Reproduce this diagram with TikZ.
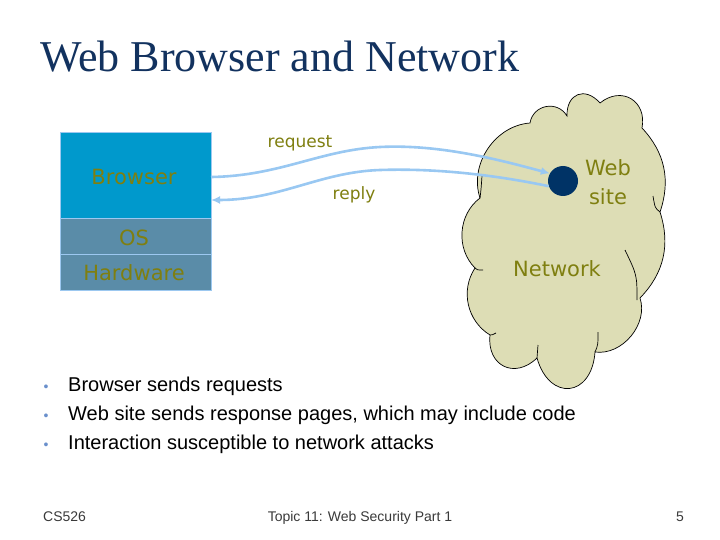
\documentclass[tikz,border=0pt]{standalone}
\usepackage{fontspec}
\setmainfont{Liberation Sans}
\newfontfamily\titlefont{Liberation Serif}
\newfontfamily\boxfont{DejaVu Sans}
\usetikzlibrary{arrows.meta}
\definecolor{titleblue}{HTML}{12325F}
\definecolor{browserblue}{HTML}{0099CC}
\definecolor{osblue}{HTML}{5A8CA8}
\definecolor{edgeblue}{HTML}{9CC8F0}
\definecolor{olivetext}{HTML}{7F7F10}
\definecolor{cloudfill}{HTML}{DDDDB5}
\definecolor{dotblue}{HTML}{003366}
\definecolor{arrowblue}{HTML}{99C8F2}
\definecolor{bulletblue}{HTML}{6A90CC}
\definecolor{footgray}{HTML}{3A3A3A}
\tikzset{
  layerbox/.style={draw=edgeblue, line width=0.8pt, minimum width=151pt, inner sep=0pt, outer sep=0pt},
  olive/.style={text=olivetext, font=\boxfont\fontsize{#1}{#1}\selectfont, inner sep=0pt},
  bump/.style 2 args={bend left=#1, looseness=#2},
  flow/.style={draw=arrowblue, line width=2.6pt, -{Latex[length=9pt,width=8pt]}},
  bullettext/.style={anchor=base west, inner sep=0pt, font=\fontsize{20}{20}\selectfont},
  bulletdot/.style={anchor=base, inner sep=0pt, text=bulletblue, font=\fontsize{14}{14}\selectfont},
  foot/.style={inner sep=0pt, text=footgray, font=\fontsize{14}{14}\selectfont}
}
\begin{document}
\begin{tikzpicture}[x=1pt,y=-1pt]
\useasboundingbox[fill=white] (0,0) rectangle (720,540);

% title
\node[anchor=base west, inner sep=0pt, text=titleblue, font=\titlefont\fontsize{44}{44}\selectfont] (title) at (40,72) {Web Browser and Network};

% cloud
\draw[fill=cloudfill, draw=black, line width=0.7pt]
  (480,198) to[bump={52}{1}] (530,123)
  to[bump={70}{1.27}] (567,116)
  to[bump={70}{1.63}] (600,103)
  to[bump={70}{1.45}] (642,128)
  to[bump={31}{1}] (660,212)
  to[bump={31}{1}] (640,298)
  to[bump={58}{1}] (595,352)
  to[bump={80}{2.0}] (537,358)
  to[bump={70}{1.52}] (490,335)
  to[bump={46}{1}] (475,268)
  to[bump={49}{1}] (480,198) -- cycle;
% interior tails of the cloud
\draw[line width=0.7pt] (475,268) .. controls (477,270) .. (483,270);
\draw[line width=0.7pt] (490,335) .. controls (492,335) .. (496,333);
\draw[line width=0.7pt] (537,358) .. controls (537,352) .. (538,345);
\draw[line width=0.7pt] (595,352) .. controls (598,345) .. (598,332);
\draw[line width=0.7pt] (637,300) .. controls (637,275) .. (625,250);
\draw[line width=0.7pt] (660,212) .. controls (655,208) .. (653,196);
\draw[line width=0.7pt] (480,198) .. controls (481,190) .. (482,176);

% stack
\node[layerbox, fill=browserblue, minimum height=86pt, anchor=north west] (browser) at (60,132) {};
\node[layerbox, fill=osblue, minimum height=36pt, anchor=north west] (os) at (60,218) {};
\node[layerbox, fill=osblue, minimum height=36pt, anchor=north west] (hw) at (60,254) {};
\node[olive=21, anchor=base] (browsertext) at (134,185) {Browser};
\node[olive=21, anchor=base] (ostext) at (134,245) {OS};
\node[olive=21, anchor=base] (hwtext) at (134,280) {Hardware};

% web site
\node[circle, fill=dotblue, minimum size=30pt, inner sep=0pt] (site) at (563,181) {};
\node[olive=21, anchor=base] (webtext) at (608,176) {Web};
\node[olive=21, anchor=base] (sitetext) at (608,205) {site};
\node[olive=21, anchor=base] (nettext) at (557,276) {Network};

% flows
\coordinate (reqstart) at ([yshift=-2pt]browser.east);
\coordinate (repend) at ([yshift=-25pt]browser.east);
\draw[flow] (reqstart) .. controls (280,176) and (320,150) .. (380,147) .. controls (440,144) and (500,160) .. (site.150);
\draw[flow] (site.200) .. controls (500,176) and (440,168) .. (380,170) .. controls (320,172) and (280,200) .. (repend);
\node[olive=17, anchor=base] (reqlabel) at (300,148) {request};
\node[olive=17, anchor=base] (replabel) at (354,200) {reply};

% bullets
\node[bulletdot] (b1) at (46,391) {•};
\node[bullettext] (t1) at (68,391) {Browser sends requests};
\node[bulletdot] (b2) at (46,420) {•};
\node[bullettext] (t2) at (68,420) {Web site sends response pages, which may include code};
\node[bulletdot] (b3) at (46,449) {•};
\node[bullettext] (t3) at (68,449) {Interaction susceptible to network attacks};

% footer
\node[foot, anchor=base west] (f1) at (43,521) {CS526};
\node[foot, anchor=base] (f2) at (360,521) {Topic 11: Web Security Part 1};
\node[foot, anchor=base east] (f3) at (684,521) {5};
\end{tikzpicture}
\end{document}
